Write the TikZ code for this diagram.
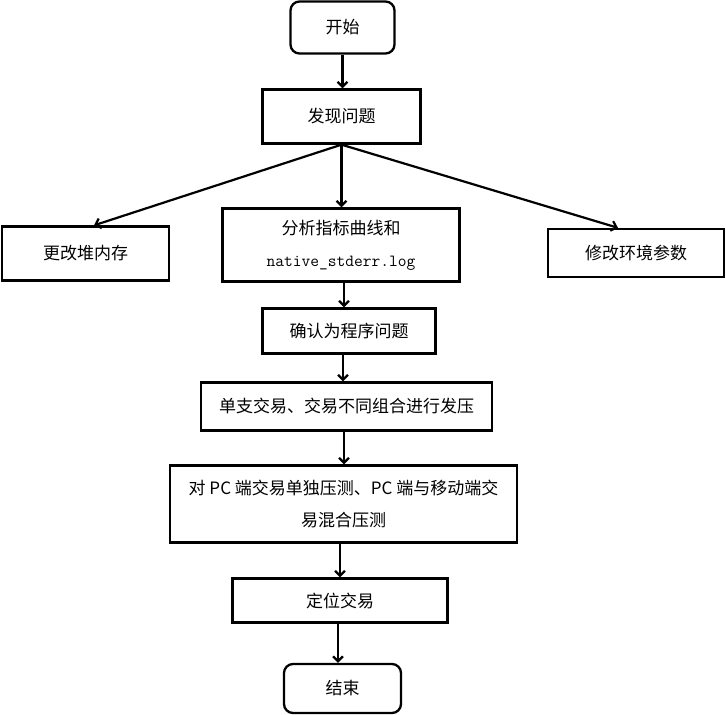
\documentclass[tikz,border=0pt]{standalone}
\usepackage{fontspec}
\setmainfont{Noto Sans CJK SC}
\setmonofont{Latin Modern Mono}
\usetikzlibrary{arrows.meta}
\begin{document}
\begin{tikzpicture}[x=1pt,y=-1pt,
  box/.style={draw,line width=2.3pt,inner sep=0pt,align=center,font=\fontsize{17}{32}\selectfont},
  term/.style={box,rounded corners=9pt},
  arr/.style={line width=2.2pt,-{Straight Barb[length=5pt,width=10pt,line width=2.2pt]}}]
\useasboundingbox (0,0) rectangle (726,715);
\node[term,minimum width=104pt,minimum height=52pt] (start) at (342.5,27.5) {开始};
\node[box,minimum width=158pt,minimum height=54pt] (find) at (341.5,116.5) {发现问题};
\node[box,minimum width=167pt,minimum height=54pt] (heap) at (85.5,253.5) {更改堆内存};
\node[box,minimum width=237pt,minimum height=73pt] (analyze) at (341,245) {分析指标曲线和\\{\ttfamily\fontsize{17}{32}\selectfont native\_stderr.log}};
\node[box,minimum width=176pt,minimum height=48pt] (env) at (636,253) {修改环境参数};
\node[box,minimum width=173pt,minimum height=45pt] (confirm) at (349,331) {确认为程序问题};
\node[box,minimum width=291pt,minimum height=48pt] (single) at (346.5,406.5) {单支交易、交易不同组合进行发压};
\node[box,minimum width=347pt,minimum height=77pt] (pc) at (343.5,504) {对 PC 端交易单独压测、PC 端与移动端交\\易混合压测};
\node[box,minimum width=215pt,minimum height=44pt] (locate) at (340,600.5) {定位交易};
\node[term,minimum width=117pt,minimum height=49pt] (end) at (342.5,688.5) {结束};
\draw[arr] (start.south) -- (start.south |- find.north);
\draw[arr] (find.south) -- ([xshift=8.5pt]heap.north);
\draw[arr] (find.south) -- (find.south |- analyze.north);
\draw[arr] (find.south) -- ([xshift=-18pt]env.north);
\draw[arr] ([xshift=3pt]analyze.south) coordinate (a1) -- (a1 |- confirm.north);
\draw[arr] ([xshift=-6pt]confirm.south) coordinate (a2) -- (a2 |- single.north);
\draw[arr] ([xshift=-2.5pt]single.south) coordinate (a3) -- (a3 |- pc.north);
\draw[arr] ([xshift=-3.5pt]pc.south) coordinate (a4) -- (a4 |- locate.north);
\draw[arr] ([xshift=-2pt]locate.south) coordinate (a5) -- (a5 |- end.north);
\end{tikzpicture}
\end{document}
